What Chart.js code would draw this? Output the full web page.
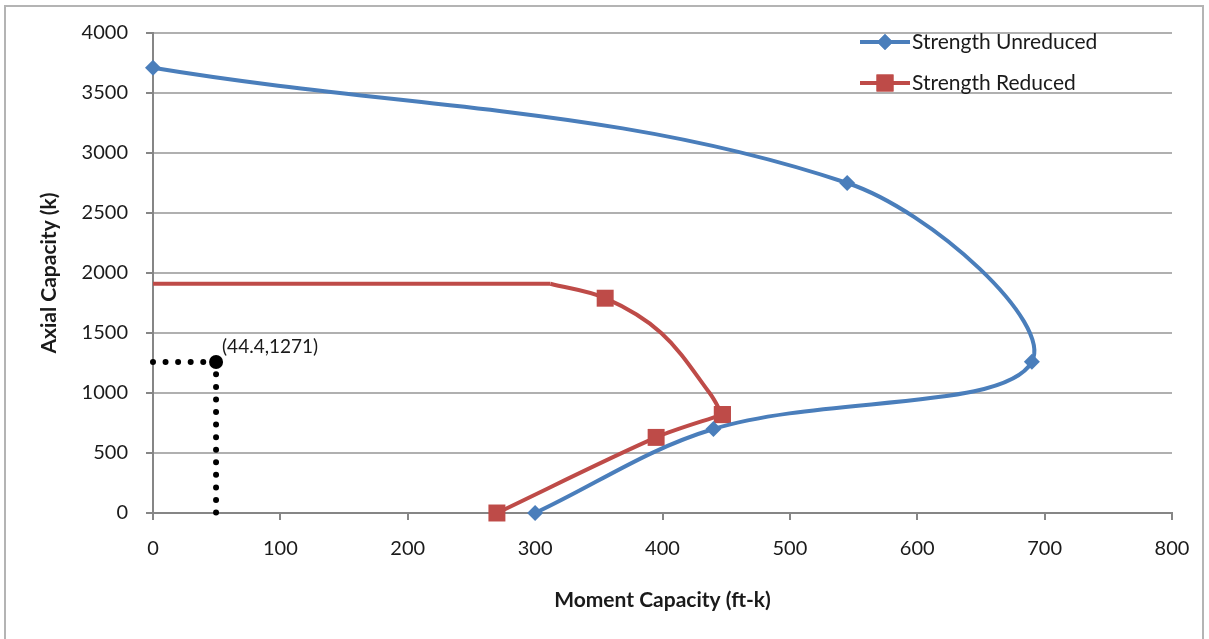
<!DOCTYPE html>
<html>
<head>
<meta charset="utf-8">
<script src="https://cdn.jsdelivr.net/npm/chart.js@4.4.0/dist/chart.umd.min.js"></script>
<style>
  html, body { margin: 0; padding: 0; background: #fff; }
  #wrap { position: relative; width: 1209px; height: 639px; }
  #frame { position: absolute; left: 4px; top: 5px; width: 1200px; height: 700px; border: 2px solid #b4b4b4; box-sizing: border-box; pointer-events: none; }
</style>
</head>
<body>
<div id="wrap">
  <canvas id="chart" width="1209" height="639"></canvas>
  <div id="frame"></div>
</div>
<script>
// values (moment in ft-k, axial in k)
const unreducedMoment = [0, 545, 690, 440, 300];
const unreducedAxial = [3710, 2750, 1260, 700, 0];
// reduced curve: flat cap, then the arc (extra unmarked points read along it)
const reducedMoment = [0, 312, 355, 399, 437, 447, 395, 270];
const reducedAxial = [1910, 1910, 1790, 1500, 1000, 820, 630, 0];
const reducedMarked = [false, false, true, false, false, true, true, true];
const markMoment = [0, 49.5, 49.5];
const markAxial = [1258, 1258, 0];
const markLabel = '(44.4,1271)';
const seriesNames = ['Strength Unreduced', 'Strength Reduced'];
const xTicks = [0, 100, 200, 300, 400, 500, 600, 700, 800];
const yTicks = [0, 500, 1000, 1500, 2000, 2500, 3000, 3500, 4000];

const BLUE = '#4a7ebb';
const RED = '#be4b48';
const FONT = 'Lato, "Open Sans", sans-serif';

function toPoints(xs, ys) {
    return xs.map((x, i) => ({x: x, y: ys[i]}));
}

// legend drawn inside the plot, top right, like the Excel one
const sideLegend = {
    id: 'sideLegend',
    afterDraw(chart) {
        const ctx = chart.ctx;
        const rows = [
            {name: seriesNames[0], color: BLUE, style: 'rectRot', r: 8, y: 42},
            {name: seriesNames[1], color: RED, style: 'rect', r: 12, y: 83}
        ];
        ctx.save();
        rows.forEach(function (row) {
            ctx.strokeStyle = row.color;
            ctx.lineWidth = 4;
            ctx.beginPath();
            ctx.moveTo(860, row.y);
            ctx.lineTo(910, row.y);
            ctx.stroke();
            ctx.fillStyle = row.color;
            Chart.helpers.drawPoint(ctx, {pointStyle: row.style, radius: row.r, borderWidth: 0, rotation: 0}, 885, row.y);
            ctx.fill();
            ctx.fillStyle = '#1a1a1a';
            ctx.font = '21px ' + FONT;
            ctx.textBaseline = 'middle';
            ctx.textAlign = 'left';
            ctx.fillText(row.name, 912, row.y);
        });
        ctx.restore();
    }
};

// label next to the marked point
const pointLabel = {
    id: 'pointLabel',
    afterDatasetsDraw(chart) {
        const pt = chart.getDatasetMeta(4).data[1];
        const ctx = chart.ctx;
        ctx.save();
        ctx.fillStyle = '#1a1a1a';
        ctx.font = '19px ' + FONT;
        ctx.textBaseline = 'middle';
        ctx.fillText(markLabel, pt.x + 6, pt.y - 15);
        ctx.restore();
    }
};

const reducedPoints = toPoints(reducedMoment, reducedAxial);
const reducedRadius = reducedMarked.map(m => m ? 12 : 0);

// the reduced curve is drawn in three pieces: flat cap, arc, lower leg
function reducedPiece(from, to, tension) {
    return {
        label: seriesNames[1],
        data: reducedPoints.slice(from, to),
        showLine: true,
        tension: tension,
        borderColor: RED,
        backgroundColor: RED,
        borderWidth: 4,
        pointStyle: 'rect',
        pointRadius: reducedRadius.slice(from, to),
        pointBorderWidth: 0,
        clip: false
    };
}

const chart = new Chart(document.getElementById('chart').getContext('2d'), {
    type: 'scatter',
    data: {
        datasets: [{
            label: seriesNames[0],
            data: toPoints(unreducedMoment, unreducedAxial),
            showLine: true,
            tension: 0.36,
            borderColor: BLUE,
            backgroundColor: BLUE,
            borderWidth: 4,
            pointStyle: 'rectRot',
            pointRadius: 8,
            pointBorderWidth: 0,
            clip: false
        },
        reducedPiece(0, 2, 0),
        reducedPiece(1, 6, 0.35),
        reducedPiece(5, 8, 0.3),
        {
            label: 'point',
            data: toPoints(markMoment, markAxial),
            showLine: true,
            tension: 0,
            borderColor: '#000',
            backgroundColor: '#000',
            borderWidth: 6,
            borderDash: [0, 12.56],
            borderCapStyle: 'round',
            pointRadius: [0, 7, 0],
            pointBorderWidth: 0,
            clip: false
        }]
    },
    options: {
        responsive: false,
        animation: false,
        layout: {padding: {top: 33, right: 37, left: 0, bottom: 0}},
        plugins: {legend: {display: false}, tooltip: {enabled: false}},
        scales: {
            x: {
                type: 'linear',
                min: 0, max: 800,
                afterBuildTicks(scale) { scale.ticks = xTicks.map(v => ({value: v})); },
                afterFit(scale) { scale.height = 126; },
                grid: {drawOnChartArea: false, color: '#868686', tickLength: 7, lineWidth: 2},
                border: {display: true, color: '#868686', width: 2},
                ticks: {color: '#1a1a1a', font: {family: FONT, size: 20}, padding: 17, callback: v => String(v)},
                title: {display: true, text: 'Moment Capacity (ft-k)', color: '#1a1a1a',
                    font: {family: FONT, size: 21, weight: 'bold'}, padding: {top: 0, bottom: 26}}
            },
            y: {
                type: 'linear',
                min: 0, max: 4000,
                afterBuildTicks(scale) { scale.ticks = yTicks.map(v => ({value: v})); },
                afterFit(scale) { scale.width = 153; },
                grid: {color: '#b0b0b0', lineWidth: 2, tickLength: 7, tickColor: '#868686'},
                border: {display: true, color: '#868686', width: 2},
                ticks: {color: '#1a1a1a', font: {family: FONT, size: 20}, padding: 18, callback: v => String(v)},
                title: {display: true, text: 'Axial Capacity (k)', color: '#1a1a1a',
                    font: {family: FONT, size: 21, weight: 'bold'}, padding: {top: 37, bottom: 0}}
            }
        }
    },
    plugins: [sideLegend, pointLabel]
});
</script>
</body>
</html>
